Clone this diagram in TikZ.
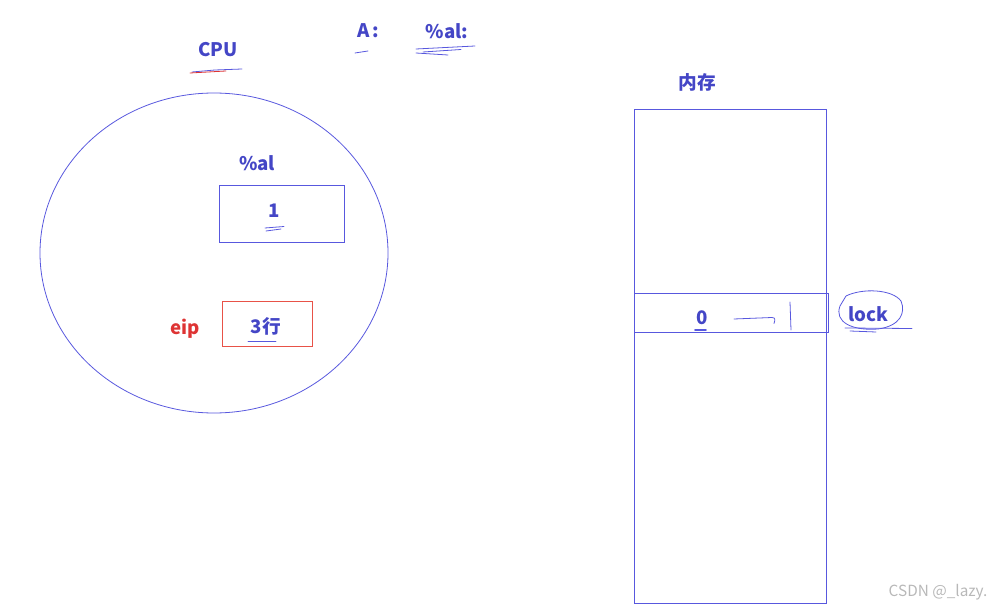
\documentclass[tikz,border=0pt]{standalone}
\usepackage{fontspec}
\setmainfont{Noto Sans CJK SC}
\usetikzlibrary{shapes.geometric}
\definecolor{penblue}{RGB}{68,70,198}
\definecolor{lineblue}{RGB}{88,88,222}
\definecolor{penred}{RGB}{222,52,52}
\definecolor{linered}{RGB}{232,82,72}
\begin{document}
\begin{tikzpicture}[x=0.75pt,y=-0.75pt,
  lbl/.style={text=penblue,font=\fontsize{14}{16}\selectfont\bfseries,inner sep=0pt},
  reg/.style={draw=lineblue,line width=0.6pt,inner sep=0pt},
  scribble/.style={draw=lineblue,line width=0.6pt,line cap=round}]
\useasboundingbox (0,0) rectangle (1003,609);

% CPU body
\node[lbl] (cpulbl) at (218,50) {CPU};
\node[reg,ellipse,minimum width=261pt,minimum height=240pt] (cpu) at (214,253) {};
\draw[scribble] (192,72) -- (215,70) -- (242,69);
\draw[scribble,draw=penred] (190,73) -- (226,71);

% register %al
\node[lbl] (allbl) at (257,163) {\%al};
\node[reg,minimum width=93.75pt,minimum height=42.75pt] (albox) at (281.5,213.5) {};
\node[lbl] (alval) at (274,211) {1};
\draw[scribble] (265,228) -- (284,226.5);
\draw[scribble] (266,231) -- (281,229);

% register eip
\node[lbl,text=penred] (eiplbl) at (185,329) {eip};
\node[reg,draw=linered,minimum width=67.5pt,minimum height=33.75pt] (eipbox) at (267,323.5) {};
\node[lbl] (eipval) at (266,326) {3行};
\draw[scribble] (248,341) -- (276,341);

% notes on top
\node[lbl] (alabel) at (368,31) {A\,:};
\node[lbl] (alnote) at (447,31) {\%al:};
\draw[scribble] (355,53) -- (368,51);
\draw[scribble] (416,49) -- (475,46);
\draw[scribble] (423,52) -- (461,49.5);
\draw[scribble] (416,53) -- (448,55);

% memory
\node[lbl] (memlbl) at (697,82) {内存};
\node[reg,minimum width=144pt,minimum height=370.5pt] (mem) at (730,356) {};
\node[reg,minimum width=145.5pt,minimum height=29.25pt] (cell) at (731,312.5) {};
\node[lbl] (cellval) at (702,318) {0};
\draw[scribble,line width=1.2pt] (695,330) -- (706,330);

% lock value
\coordinate (bar) at (790,316);
\draw[scribble] (cellval.east) ++(26,1) -- ++(38,-1.5) .. controls ++(4,0) and ++(1,-3) .. ++(2,6);
\draw[scribble] (790,302) -- (791,330);
\node[lbl] (lock) at (868,314) {lock};
\draw[scribble] (846,296) .. controls (862,288) and (892,289) .. (901,301)
  .. controls (906,313) and (900,326) .. (878,329)
  .. controls (852,331) and (834,322) .. (840,306) -- (846,296);
\draw[scribble] (845,328) -- (912,328.5);
\draw[scribble] (850,331) -- (876,332);

% watermark
\node[text=black!28,font=\fontsize{11.5}{13}\selectfont,inner sep=0pt] (mark) at (938,592) {CSDN @\_lazy.};
\end{tikzpicture}
\end{document}
